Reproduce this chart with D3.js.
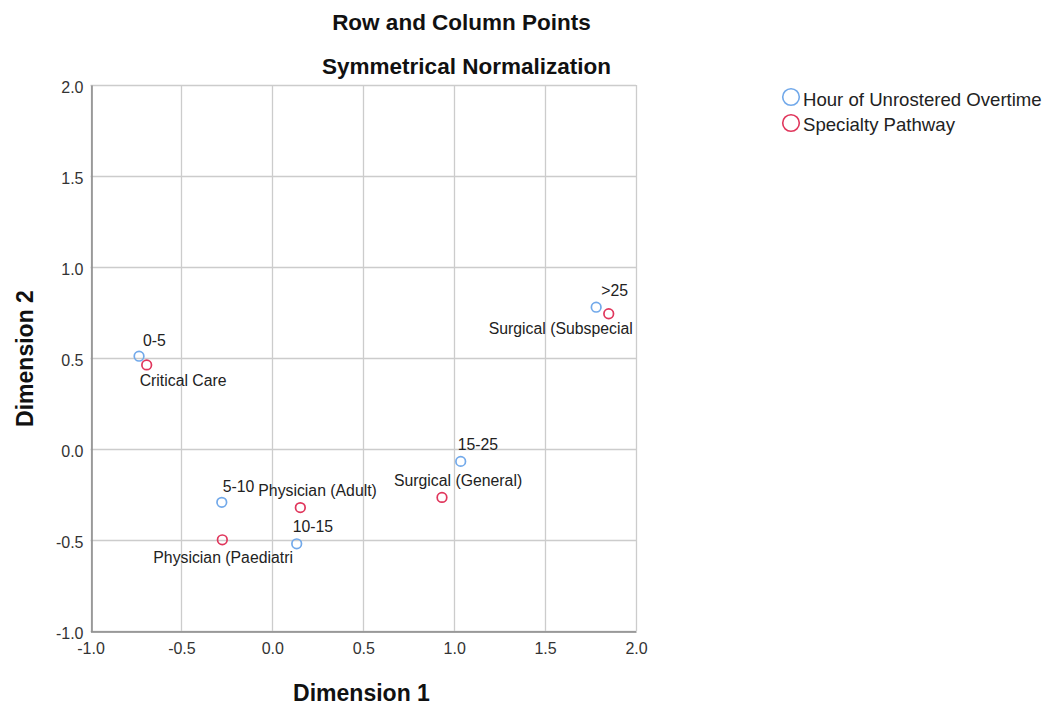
<!DOCTYPE html>
<html>
<head>
<meta charset="utf-8">
<script src="https://cdn.jsdelivr.net/npm/d3@7"></script>
<style>
  html, body { margin: 0; padding: 0; background: #fff; }
  svg { display: block; font-family: "Liberation Sans", Arial, sans-serif; }
</style>
</head>
<body>
<svg id="chart" width="1054" height="707"></svg>
<script>
// ---- data ----
const rowLabels = ["0-5", "5-10", "10-15", "15-25", ">25"];
const rowDim1 = [-0.733, -0.278, 0.134, 1.036, 1.781];
const rowDim2 = [0.510, -0.293, -0.521, -0.068, 0.779];

const colLabels = ["Critical Care", "Physician (Adult)", "Physician (Paediatri", "Surgical (General)", "Surgical (Subspecial"];
const colDim1 = [-0.691, 0.154, -0.275, 0.933, 1.850];
const colDim2 = [0.462, -0.322, -0.499, -0.266, 0.743];

const seriesNames = ["Hour of Unrostered Overtime", "Specialty Pathway"];
const tickValues = [-1.0, -0.5, 0.0, 0.5, 1.0, 1.5, 2.0];

// label placement offsets (layout only, px relative to point)
const rowLabelOffsets = [[4, -16], [1, -16], [-4, -17], [-3, -17], [5, -17]];
const colLabelOffsets = [[-7, 16], [-42, -17], [-69, 17.5], [-48, -17], [-120, 15]];

// ---- layout ----
const colors = ["#72a9ea", "#e0365c"];
const svg = d3.select("#chart");
const plotLeft = 90.5, plotRight = 636, plotTop = 85, plotBottom = 631;

const x = d3.scaleLinear().domain([-1, 2]).range([plotLeft, plotRight]);
const y = d3.scaleLinear().domain([-1, 2]).range([plotBottom, plotTop]);

// gridlines
const grid = svg.append("g");
grid.selectAll("line.v").data(tickValues).enter().append("line")
  .attr("x1", d => Math.round(x(d)) + 0.5).attr("x2", d => Math.round(x(d)) + 0.5)
  .attr("y1", plotTop).attr("y2", plotBottom)
  .attr("stroke", "#cccccc").attr("stroke-width", 1.3);
grid.selectAll("line.h").data(tickValues).enter().append("line")
  .attr("y1", d => Math.round(y(d)) + 0.5).attr("y2", d => Math.round(y(d)) + 0.5)
  .attr("x1", plotLeft).attr("x2", plotRight)
  .attr("stroke", "#cccccc").attr("stroke-width", 1.3);

// axes
const fmt = d => d.toFixed(1);
const xAxis = d3.axisBottom(x).tickValues(tickValues).tickFormat(fmt).tickSize(0).tickPadding(11);
const yAxis = d3.axisLeft(y).tickValues(tickValues).tickFormat(fmt).tickSize(0).tickPadding(8);

const gx = svg.append("g").attr("transform", `translate(0,${Math.round(y(-1)) + 0.5})`).call(xAxis);
const gy = svg.append("g").attr("transform", `translate(${Math.round(x(-1)) + 0.5},0)`).call(yAxis);
[gx, gy].forEach(g => {
  g.select(".domain").attr("stroke", "#888888").attr("stroke-width", 1.5);
  g.selectAll("text").attr("font-size", 16).attr("fill", "#333333")
    .attr("font-family", "'Liberation Sans', Arial, sans-serif");
});
gy.selectAll("text").attr("dy", "0.45em");

// titles
svg.append("text").attr("x", 461.5).attr("y", 30).attr("text-anchor", "middle")
  .attr("font-size", 22.5).attr("font-weight", "bold").attr("fill", "#111")
  .text("Row and Column Points");
svg.append("text").attr("x", 466.5).attr("y", 74).attr("text-anchor", "middle")
  .attr("font-size", 22.5).attr("font-weight", "bold").attr("fill", "#111")
  .text("Symmetrical Normalization");
svg.append("text").attr("x", 361.5).attr("y", 701).attr("text-anchor", "middle")
  .attr("font-size", 23).attr("font-weight", "bold").attr("fill", "#111")
  .text("Dimension 1");
svg.append("text").attr("transform", "translate(33,358.5) rotate(-90)").attr("text-anchor", "middle")
  .attr("font-size", 23).attr("font-weight", "bold").attr("fill", "#111")
  .text("Dimension 2");

// points
const rows = rowLabels.map((l, i) => ({label: l, dx: rowDim1[i], dy: rowDim2[i], off: rowLabelOffsets[i]}));
const cols = colLabels.map((l, i) => ({label: l, dx: colDim1[i], dy: colDim2[i], off: colLabelOffsets[i]}));

[rows, cols].forEach((data, si) => {
  const g = svg.append("g");
  g.selectAll("circle").data(data).enter().append("circle")
    .attr("cx", d => x(d.dx)).attr("cy", d => y(d.dy)).attr("r", 4.8)
    .attr("fill", "none").attr("stroke", colors[si]).attr("stroke-width", 1.7);
  g.selectAll("text").data(data).enter().append("text")
    .attr("x", d => x(d.dx) + d.off[0]).attr("y", d => y(d.dy) + d.off[1])
    .attr("dominant-baseline", "central")
    .attr("font-size", 15.8).attr("fill", "#222")
    .text(d => d.label);
});

// legend
const legend = svg.append("g");
seriesNames.forEach((name, i) => {
  legend.append("circle").attr("cx", 791).attr("cy", 97 + i * 26).attr("r", 8.3)
    .attr("fill", "none").attr("stroke", colors[i]).attr("stroke-width", 1.6);
  legend.append("text").attr("x", 803).attr("y", 105.5 + i * 25.5)
    .attr("font-size", 18.6).attr("fill", "#222")
    .text(name);
});
</script>
</body>
</html>
